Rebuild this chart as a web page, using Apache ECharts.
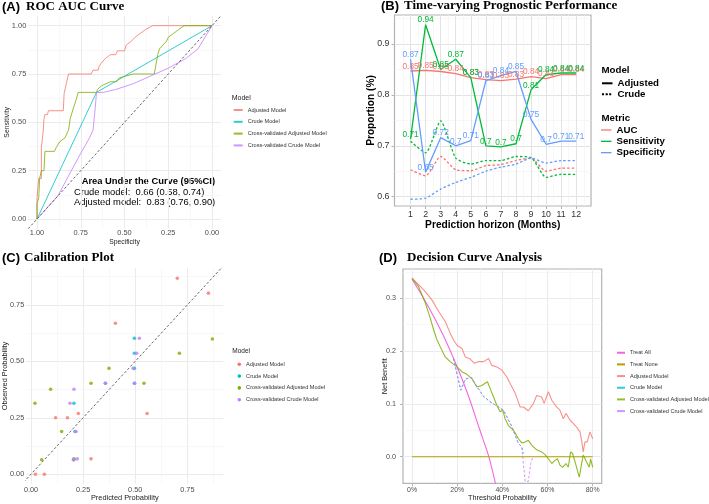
<!DOCTYPE html>
<html>
<head>
<meta charset="utf-8">
<script src="https://cdn.jsdelivr.net/npm/echarts@6/dist/echarts.min.js"></script>
<style>
  html, body { margin: 0; padding: 0; background: #fff; }
  #chart { width: 709px; height: 504px; }
</style>
</head>
<body>
<div id="chart"></div>
<script>
// ---------- (A) ROC curves: specificity / sensitivity pairs
const rocAdjSpec = [1.00,1.00,0.99,0.99,0.975,0.975,0.965,0.96,0.955,0.94,0.935,0.85,0.845,0.83,0.82,0.69,0.68,0.65,0.645,0.63,0.61,0.58,0.55,0.54,0.50,0.49,0.46,0.44,0.41,0.38,0.34,0.00];
const rocAdjSens = [0.00,0.11,0.11,0.21,0.21,0.37,0.45,0.52,0.54,0.54,0.56,0.56,0.65,0.71,0.75,0.75,0.77,0.77,0.79,0.81,0.83,0.85,0.85,0.87,0.87,0.90,0.92,0.94,0.96,0.98,1.00,1.00];
const rocCrudeSpec = [1.00, 0.66, 0.00];
const rocCrudeSens = [0.00, 0.655, 1.00];
const rocCvAdjSpec = [1.00,1.00,0.99,0.99,0.985,0.985,0.975,0.975,0.96,0.955,0.90,0.89,0.87,0.84,0.82,0.81,0.79,0.775,0.765,0.66,0.655,0.63,0.58,0.545,0.53,0.45,0.33,0.32,0.31,0.30,0.28,0.26,0.25,0.22,0.19,0.16,0.00];
const rocCvAdjSens = [0.00,0.08,0.08,0.11,0.11,0.21,0.21,0.25,0.25,0.35,0.35,0.37,0.40,0.42,0.46,0.52,0.58,0.62,0.655,0.655,0.67,0.69,0.71,0.71,0.73,0.75,0.75,0.80,0.85,0.88,0.90,0.92,0.94,0.96,0.98,1.00,1.00];
const rocCvCrudeSpec = [1.00,0.88,0.81,0.75,0.70,0.68,0.672,0.665,0.66,0.62,0.55,0.45,0.35,0.25,0.15,0.08,0.04,0.00];
const rocCvCrudeSens = [0.00,0.12,0.24,0.34,0.42,0.46,0.53,0.60,0.655,0.655,0.67,0.70,0.74,0.78,0.83,0.88,0.94,1.00];
const rocRefSpec = [1.05, -0.05];
const rocRefSens = [-0.05, 1.05];
const rocTicks = [0, 0.25, 0.5, 0.75, 1];
const rocMinor = [0.125, 0.375, 0.625, 0.875];

// ---------- (B) time-varying performance
const months = [1,2,3,4,5,6,7,8,9,10,11,12];
const aucAdj = [0.847,0.848,0.846,0.842,0.834,0.830,0.828,0.831,0.836,0.832,0.840,0.840];
const sensAdj = [0.713,0.938,0.850,0.870,0.834,0.700,0.698,0.704,0.810,0.840,0.843,0.843];
const specAdj = [0.870,0.648,0.716,0.700,0.710,0.828,0.838,0.846,0.752,0.703,0.709,0.709];
const aucCrude = [0.653,0.641,0.679,0.653,0.651,0.661,0.663,0.671,0.676,0.650,0.656,0.656];
const sensCrude = [0.709,0.686,0.749,0.676,0.664,0.671,0.671,0.679,0.677,0.638,0.644,0.644];
const specCrude = [0.595,0.597,0.615,0.628,0.638,0.650,0.658,0.664,0.676,0.666,0.671,0.671];
const perfYTicks = [0.6, 0.7, 0.8, 0.9];
const perfYMinor = [0.65, 0.75, 0.85, 0.95];
const perfXMinor = [0.5,1.5,2.5,3.5,4.5,5.5,6.5,7.5,8.5,9.5,10.5,11.5,12.5];

// ---------- (C) calibration points
const calAdjPred = [0.021,0.064,0.118,0.175,0.227,0.288,0.405,0.557,0.702,0.851];
const calAdjObs = [0.000,0.000,0.250,0.250,0.269,0.068,0.669,0.269,0.868,0.802];
const calCrudePred = [0.206,0.211,0.206,0.357,0.496,0.496,0.496,0.496];
const calCrudeObs = [0.064,0.189,0.314,0.403,0.403,0.469,0.536,0.602];
const calCvAdjPred = [0.019,0.051,0.094,0.147,0.206,0.288,0.374,0.542,0.712,0.870];
const calCvAdjObs = [0.314,0.064,0.376,0.189,0.068,0.403,0.469,0.403,0.536,0.599];
const calCvCrudePred = [0.187,0.206,0.203,0.222,0.216,0.357,0.490,0.497,0.507,0.520];
const calCvCrudeObs = [0.314,0.376,0.064,0.068,0.189,0.403,0.469,0.403,0.536,0.602];
const calRef = [-0.05, 1.0];
const calTicks = [0, 0.25, 0.5, 0.75];
const calMinor = [0.125, 0.375, 0.625, 0.875];

// ---------- (D) decision curves
const treatAllT = [0,0.05,0.10,0.15,0.20,0.25,0.30,0.34,0.38];
const treatAllNB = [0.336,0.301,0.262,0.219,0.170,0.115,0.051,0.000,-0.070];
const treatNoneT = [0, 0.8];
const treatNoneNB = [0, 0];
const adjT = [0,0.052,0.088,0.118,0.147,0.169,0.184,0.199,0.221,0.236,0.258,0.275,0.295,0.317,0.339,0.353,0.376,0.398,0.420,0.434,0.457,0.479,0.493,0.515,0.538,0.552,0.574,0.585,0.604,0.619,0.641,0.655,0.670,0.682,0.700,0.714,0.729,0.744,0.751,0.758,0.766,0.776,0.788,0.800];
const adjNB = [0.338,0.316,0.297,0.275,0.256,0.234,0.221,0.211,0.205,0.189,0.185,0.177,0.180,0.180,0.186,0.173,0.170,0.164,0.151,0.139,0.120,0.094,0.094,0.087,0.101,0.116,0.113,0.101,0.123,0.107,0.094,0.088,0.072,0.082,0.069,0.063,0.056,0.047,0.031,0.009,0.028,0.028,0.047,0.034];
const cvAdjT = [0,0.029,0.059,0.081,0.096,0.110,0.125,0.147,0.169,0.199,0.221,0.243,0.265,0.287,0.309,0.334,0.346,0.361,0.376,0.390,0.402,0.412,0.427,0.442,0.457,0.471,0.486,0.501,0.515,0.530,0.552,0.574,0.589,0.604,0.619,0.633,0.644,0.655,0.667,0.682,0.692,0.702,0.711,0.722,0.741,0.751,0.758,0.773,0.785,0.791,0.800];
const cvAdjNB = [0.338,0.322,0.291,0.262,0.240,0.222,0.208,0.189,0.180,0.170,0.161,0.156,0.148,0.132,0.135,0.142,0.129,0.113,0.097,0.085,0.088,0.072,0.059,0.053,0.045,0.034,0.026,0.028,0.031,0.022,0.013,0.009,0.004,-0.004,-0.013,-0.007,-0.004,-0.016,-0.020,-0.013,-0.020,0.009,0.006,-0.010,-0.039,-0.013,0.003,-0.010,-0.020,-0.004,-0.020];
const crudeT = [0.184,0.200,0.216,0.236,0.262,0.287,0.317,0.346,0.376,0.405,0.442,0.471,0.486,0.493];
const crudeNB = [0.186,0.155,0.126,0.147,0.150,0.133,0.114,0.104,0.096,0.088,0.057,0.025,0.019,0.006];
const cvCrudeT = [0.184,0.200,0.216,0.236,0.262,0.287,0.317,0.346,0.376,0.405,0.442,0.471,0.486,0.493,0.501,0.515,0.526,0.535];
const cvCrudeNB = [0.186,0.155,0.126,0.147,0.150,0.133,0.114,0.104,0.096,0.088,0.057,0.025,0.019,-0.013,-0.047,-0.047,-0.013,0.000];
const dcaXTicks = [0, 0.2, 0.4, 0.6, 0.8];
const dcaXMinor = [0.1, 0.3, 0.5, 0.7];
const dcaYTicks = [0, 0.1, 0.2, 0.3];
const dcaYMinor = [0.05, 0.15, 0.25, 0.35];

const SANS = '"Liberation Sans", Arial, sans-serif';
const SERIF = '"Liberation Serif", "Times New Roman", serif';
const C_ADJ = '#F8766D', C_CRUDE = '#00BFC4', C_CVADJ = '#7CAE00', C_CVCRUDE = '#C77CFF';
const C_AUC = '#F8766D', C_SENS = '#00BA38', C_SPEC = '#619CFF';
const C_ALL = '#F564E3', C_NONE = '#B79F00';

const zip = (a, b) => a.map((v, i) => [v, b[i]]);
const fix = d => v => Number(v).toFixed(d);

function majorAxis(o) {
    return {
        type: 'value', gridIndex: o.grid, min: o.min, max: o.max, inverse: !!o.inverse,
        position: o.pos,
        name: o.name, nameLocation: 'middle', nameGap: o.nameGap, nameMoveOverlap: false,
        nameTextStyle: { fontFamily: SANS, fontSize: o.nameSize, fontWeight: o.nameBold ? 'bold' : 'normal', color: o.nameColor || '#222' },
        axisLine: { show: false, onZero: false },
        axisTick: { show: !!o.tick, customValues: o.ticks, length: 3, lineStyle: { color: '#b3b3b3', width: 1 } },
        axisLabel: { customValues: o.ticks, formatter: o.fmt, margin: o.margin, fontFamily: SANS, fontSize: o.labelSize, color: o.labelColor || '#4d4d4d' },
        splitLine: { show: true, lineStyle: { color: o.gridColor || '#ebebeb', width: 1 } }
    };
}
function minorAxis(o) {
    return {
        type: 'value', gridIndex: o.grid, min: o.min, max: o.max, inverse: !!o.inverse,
        position: o.pos,
        axisLine: { show: false, onZero: false },
        axisTick: { show: false, customValues: o.ticks },
        axisLabel: { show: false, customValues: o.ticks },
        splitLine: { show: true, lineStyle: { color: o.gridColor || '#f3f3f3', width: 0.6 } }
    };
}

const xAxes = [
    majorAxis({ grid: 0, min: -0.05, max: 1.05, inverse: true, pos: 'bottom', ticks: rocTicks, fmt: fix(2), margin: 1, labelSize: 7.4,
        name: 'Specificity', nameGap: 10, nameSize: 6.8 }),
    minorAxis({ grid: 0, min: -0.05, max: 1.05, inverse: true, pos: 'top', ticks: rocMinor }),
    majorAxis({ grid: 1, min: -0.065, max: 12.98, pos: 'bottom', ticks: months, fmt: v => String(v), margin: 4, labelSize: 8.8, labelColor: '#333',
        tick: true, gridColor: '#e3e3e3', name: 'Prediction horizon (Months)', nameGap: 14, nameSize: 10.2, nameBold: true, nameColor: '#000' }),
    minorAxis({ grid: 1, min: -0.065, max: 12.98, pos: 'top', ticks: perfXMinor, gridColor: '#f1f1f1' }),
    majorAxis({ grid: 2, min: -0.023, max: 0.923, pos: 'bottom', ticks: calTicks, fmt: fix(2), margin: 2, labelSize: 7.3,
        name: 'Predicted Probability', nameGap: 10.5, nameSize: 7.4 }),
    minorAxis({ grid: 2, min: -0.023, max: 0.923, pos: 'top', ticks: calMinor }),
    majorAxis({ grid: 3, min: -0.04, max: 0.84, pos: 'bottom', ticks: dcaXTicks, fmt: v => Math.round(v * 100) + '%', margin: 3, labelSize: 6.9,
        tick: true, name: 'Threshold Probability', nameGap: 11, nameSize: 7.3 }),
    minorAxis({ grid: 3, min: -0.04, max: 0.84, pos: 'top', ticks: dcaXMinor })
];
const yAxes = [
    majorAxis({ grid: 0, min: -0.05, max: 1.05, pos: 'left', ticks: rocTicks, fmt: fix(2), margin: 2, labelSize: 7.4,
        name: 'Sensitivity', nameGap: 18, nameSize: 6.8 }),
    minorAxis({ grid: 0, min: -0.05, max: 1.05, pos: 'right', ticks: rocMinor }),
    majorAxis({ grid: 1, min: 0.5817, max: 0.957, pos: 'left', ticks: perfYTicks, fmt: fix(1), margin: 5, labelSize: 8.8, labelColor: '#333',
        tick: true, gridColor: '#e3e3e3', name: 'Proportion (%)', nameGap: 18.5, nameSize: 10.2, nameBold: true, nameColor: '#000' }),
    minorAxis({ grid: 1, min: 0.5817, max: 0.957, pos: 'right', ticks: perfYMinor, gridColor: '#f1f1f1' }),
    majorAxis({ grid: 2, min: -0.0435, max: 0.9135, pos: 'left', ticks: calTicks, fmt: fix(2), margin: 2, labelSize: 7.3,
        name: 'Observed Probability', nameGap: 17.5, nameSize: 7.4 }),
    minorAxis({ grid: 2, min: -0.0435, max: 0.9135, pos: 'right', ticks: calMinor }),
    majorAxis({ grid: 3, min: -0.0504, max: 0.3555, pos: 'left', ticks: dcaYTicks, fmt: fix(1), margin: 7, labelSize: 7.2,
        tick: true, name: 'Net Benefit', nameGap: 15, nameSize: 7.3 }),
    minorAxis({ grid: 3, min: -0.0504, max: 0.3555, pos: 'right', ticks: dcaYMinor })
];

function line(name, gi, xs, ys, color, extra) {
    return Object.assign({
        type: 'line', name: name, xAxisIndex: gi * 2, yAxisIndex: gi * 2,
        data: zip(xs, ys), symbol: 'none', animation: false,
        lineStyle: { color: color, width: 1 }, itemStyle: { color: color }
    }, extra || {});
}
function dots(name, xs, ys, color) {
    return {
        type: 'scatter', name: name, xAxisIndex: 4, yAxisIndex: 4, data: zip(xs, ys),
        symbol: 'circle', symbolSize: 3.6, itemStyle: { color: color }, animation: false
    };
}
// adjusted lines in (B) carry their rounded values as labels
function labelled(color) {
    return {
        symbol: 'circle', symbolSize: 0.1, showSymbol: true,
        lineStyle: { color: color, width: 1.3 },
        label: {
            show: true, position: 'top', distance: 0.5, color: color, fontFamily: SANS, fontSize: 8.3,
            formatter: p => String(Math.round(p.value[1] * 100) / 100)
        }
    };
}
const dashB = [2.5, 2];

const series = [
    // A
    line('Adjusted Model', 0, rocAdjSpec, rocAdjSens, C_ADJ, { lineStyle: { color: C_ADJ, width: 1, opacity: 0.8 } }),
    line('Crude Model', 0, rocCrudeSpec, rocCrudeSens, C_CRUDE, { lineStyle: { color: C_CRUDE, width: 1, opacity: 0.8 } }),
    line('Cross-validated Adjusted Model', 0, rocCvAdjSpec, rocCvAdjSens, C_CVADJ, { lineStyle: { color: C_CVADJ, width: 1, opacity: 0.8 } }),
    line('Cross-validated Crude Model', 0, rocCvCrudeSpec, rocCvCrudeSens, C_CVCRUDE, { lineStyle: { color: C_CVCRUDE, width: 1, opacity: 0.8 } }),
    line('ref-roc', 0, rocRefSpec, rocRefSens, '#555', { lineStyle: { color: '#555', width: 0.9, type: [2.5, 2] }, silent: true }),
    // B
    line('AUC', 1, months, aucCrude, C_AUC, { smooth: 0.2, lineStyle: { color: C_AUC, width: 1.3, type: dashB } }),
    line('Sensitivity', 1, months, sensCrude, C_SENS, { smooth: 0.2, lineStyle: { color: C_SENS, width: 1.3, type: dashB } }),
    line('Specificity', 1, months, specCrude, C_SPEC, { smooth: 0.2, lineStyle: { color: C_SPEC, width: 1.3, type: dashB } }),
    line('AUC', 1, months, aucAdj, C_AUC, labelled(C_AUC)),
    line('Sensitivity', 1, months, sensAdj, C_SENS, labelled(C_SENS)),
    line('Specificity', 1, months, specAdj, C_SPEC, labelled(C_SPEC)),
    { type: 'line', name: 'Adjusted', xAxisIndex: 2, yAxisIndex: 2, data: [], symbol: 'none', lineStyle: { color: '#000', width: 1.3 }, itemStyle: { color: '#000' } },
    { type: 'line', name: 'Crude', xAxisIndex: 2, yAxisIndex: 2, data: [], symbol: 'none', lineStyle: { color: '#000', width: 1.3, type: [2, 1.6] }, itemStyle: { color: '#000' } },
    // C
    line('ref-cal', 2, calRef, calRef, '#555', { lineStyle: { color: '#555', width: 0.9, type: [2.5, 2] }, silent: true }),
    dots('Adjusted Model', calAdjPred, calAdjObs, C_ADJ),
    dots('Crude Model', calCrudePred, calCrudeObs, C_CRUDE),
    dots('Cross-validated Adjusted Model', calCvAdjPred, calCvAdjObs, C_CVADJ),
    dots('Cross-validated Crude Model', calCvCrudePred, calCvCrudeObs, C_CVCRUDE),
    // D
    line('Treat All', 3, treatAllT, treatAllNB, C_ALL, { smooth: 0.3, lineStyle: { color: C_ALL, width: 1.1 } }),
    line('Treat None', 3, treatNoneT, treatNoneNB, C_NONE, { lineStyle: { color: C_NONE, width: 1.1 } }),
    line('Adjusted Model', 3, adjT, adjNB, C_ADJ, { lineStyle: { color: C_ADJ, width: 1.1, opacity: 0.8 } }),
    line('Crude Model', 3, crudeT, crudeNB, C_CRUDE, { lineStyle: { color: C_CRUDE, width: 1, opacity: 0.8, type: [2.5, 2] } }),
    line('Cross-validated Adjusted Model', 3, cvAdjT, cvAdjNB, C_CVADJ, { lineStyle: { color: C_CVADJ, width: 1.1, opacity: 0.85 } }),
    line('Cross-validated Crude Model', 3, cvCrudeT, cvCrudeNB, C_CVCRUDE, { lineStyle: { color: C_CVCRUDE, width: 1, opacity: 0.8, type: [2.5, 2] } })
];

const modelNames = ['Adjusted Model', 'Crude Model', 'Cross-validated Adjusted Model', 'Cross-validated Crude Model'];
const modelColors = [C_ADJ, C_CRUDE, C_CVADJ, C_CVCRUDE];
const metricNames = ['AUC', 'Sensitivity', 'Specificity'];
const metricColors = [C_AUC, C_SENS, C_SPEC];
const smallText = { fontFamily: SANS, fontSize: 5.6, color: '#333' };

const legends = [
    { left: 232.7, top: 104.1, orient: 'vertical', padding: 0, itemGap: 0, itemWidth: 9, itemHeight: 1.2, selectedMode: false,
      textStyle: Object.assign({ lineHeight: 11.8 }, smallText), data: modelNames },
    { left: 601, top: 77.8, orient: 'vertical', padding: 0, itemGap: 0, itemWidth: 10.5, itemHeight: 1.5, selectedMode: false,
      textStyle: { fontFamily: SANS, fontSize: 9.7, fontWeight: 'bold', color: '#000', lineHeight: 11 }, data: ['Adjusted', 'Crude'] },
    { left: 601, top: 124.3, orient: 'vertical', padding: 0, itemGap: 0, itemWidth: 10.5, itemHeight: 1.3, selectedMode: false,
      textStyle: { fontFamily: SANS, fontSize: 9.7, fontWeight: 'bold', color: '#000', lineHeight: 11.35 },
      data: metricNames.map((n, i) => ({ name: n, icon: 'rect', itemStyle: { color: metricColors[i], borderWidth: 0 } })) },
    { left: 237.5, top: 358.4, orient: 'vertical', padding: 0, itemGap: 0, itemWidth: 3.6, itemHeight: 3.6, selectedMode: false,
      textStyle: Object.assign({ lineHeight: 11.8 }, smallText),
      data: modelNames.map((n, i) => ({ name: n, icon: 'circle', itemStyle: { color: modelColors[i], borderWidth: 0 } })) },
    { left: 616, top: 346.9, orient: 'vertical', padding: 0, itemGap: 0, itemWidth: 8, itemHeight: 1.2, selectedMode: false,
      textStyle: Object.assign({ lineHeight: 11.67 }, smallText), data: ['Treat All', 'Treat None'].concat(modelNames) }
];

function panelTitle(tag, text, left, top, gap) {
    return {
        text: '{a|' + tag + '}{b|' + text + '}', left: left, top: top, padding: 0,
        textStyle: { rich: {
            a: { fontFamily: SANS, fontWeight: 'bold', fontSize: 13, color: '#000', padding: [0, gap, 0, 0] },
            b: { fontFamily: SERIF, fontWeight: 'bold', fontSize: 13, color: '#000' }
        } }
    };
}
function txt(s, x, y, font, align, color) {
    return { type: 'text', x: x, y: y, silent: true,
        style: { text: s, x: 0, y: 0, font: font, fill: color || '#000', align: align || 'left', verticalAlign: 'middle',
                 textAlign: align || 'left', textVerticalAlign: 'middle' } };
}

const option = {
    animation: false,
    backgroundColor: '#fff',
    title: [
        panelTitle('(A)', 'ROC AUC Curve', 2, 0.5, 6),
        panelTitle('(B)', 'Time-varying Prognostic Performance', 381, -0.5, 5),
        panelTitle('(C)', 'Calibration Plot', 2, 251.5, 4),
        panelTitle('(D)', 'Decision Curve Analysis', 379, 251.5, 10)
    ],
    grid: [
        { left: 28.25, top: 16, width: 192.5, height: 212.7, outerBoundsMode: 'none' },
        { left: 394.5, top: 15, width: 196.5, height: 191, show: true, borderColor: '#b3b3b3', borderWidth: 1.2, backgroundColor: 'transparent', outerBoundsMode: 'none' },
        { left: 26.2, top: 268, width: 197.2, height: 216, outerBoundsMode: 'none' },
        { left: 403, top: 269, width: 198.7, height: 214.3, show: true, borderColor: '#b3b3b3', borderWidth: 1.2, backgroundColor: 'transparent', outerBoundsMode: 'none' }
    ],
    xAxis: xAxes,
    yAxis: yAxes,
    legend: legends,
    series: series,
    graphic: [
        txt('Model', 231.7, 98.3, '7px ' + SANS, 'left', '#222'),
        txt('Model', 232.3, 351.7, '6.5px ' + SANS, 'left', '#222'),
        txt('Model', 601.5, 70.8, 'bold 9.7px ' + SANS, 'left', '#000'),
        txt('Metric', 601.5, 118, 'bold 9.7px ' + SANS, 'left', '#000'),
        txt('Area Under the Curve (95%CI)', 215, 181.7, 'bold 9.4px ' + SANS, 'right'),
        txt('Crude model:  0.66 (0.58, 0.74)', 74, 192.7, '9.4px ' + SANS, 'left'),
        txt('Adjusted model:  0.83 (0.76, 0.90)', 74, 202.7, '9.4px ' + SANS, 'left')
    ]
};

const chart = echarts.init(document.getElementById('chart'));
chart.setOption(option);
</script>
</body>
</html>
